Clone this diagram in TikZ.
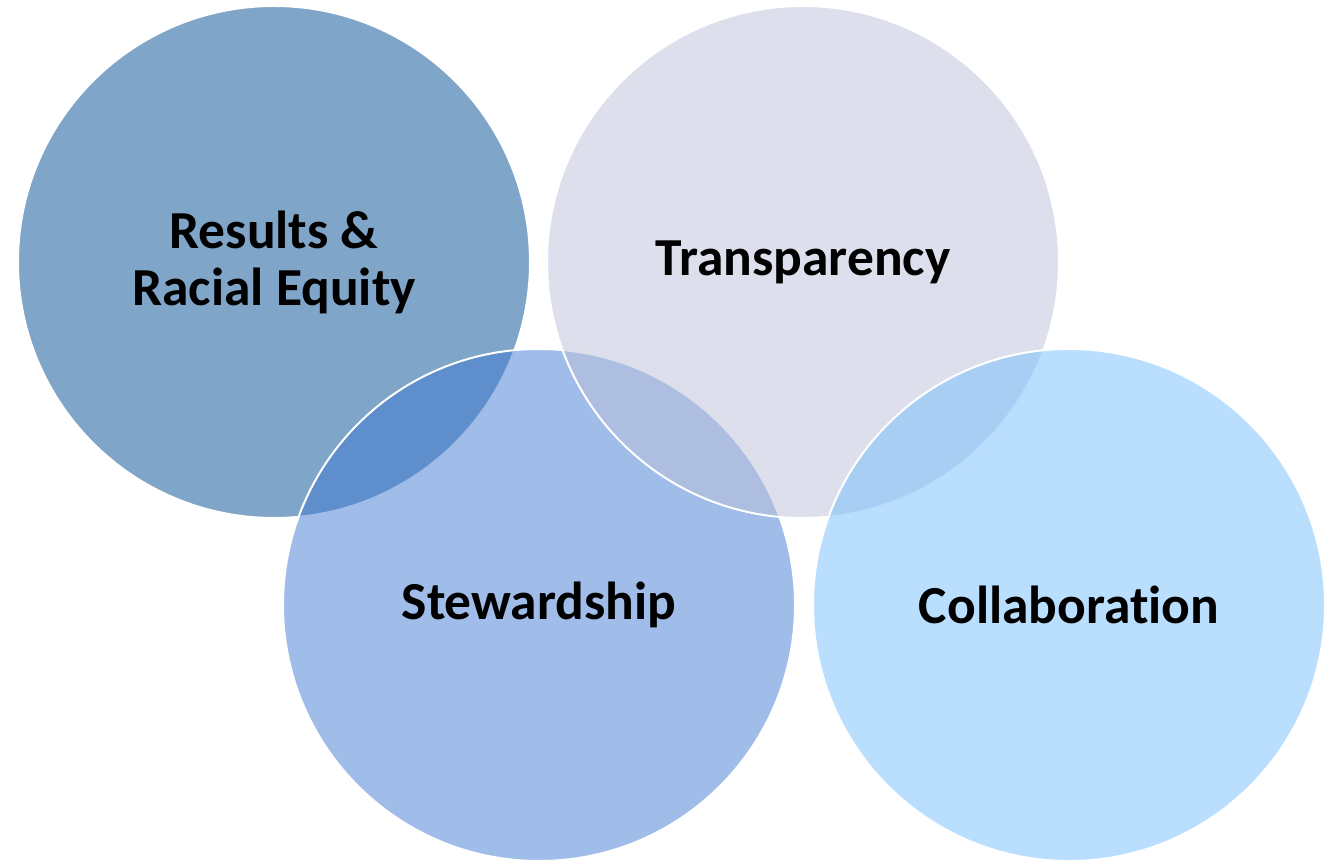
\documentclass[tikz,border=0pt]{standalone}
\usepackage{fontspec}
\setmainfont{Carlito}[Ligatures=NoCommon]
\usetikzlibrary{positioning}
\definecolor{resultsblue}{RGB}{0,75,145}
\definecolor{stewardblue}{RGB}{65,121,209}
\definecolor{transpgrey}{RGB}{187,193,217}
\definecolor{collabblue}{RGB}{117,189,251}

\begin{document}
\begin{tikzpicture}
    [x=1pt,y=1pt,
    value/.style={circle,draw=white,line width=2pt,fill opacity=0.5,text opacity=1,
    inner sep=0pt,minimum size=512pt,align=center,
    font=\bfseries\fontsize{53.5}{57}\selectfont}]
    \useasboundingbox (0,0) rectangle (1337,862);
    \node[value,fill=resultsblue] (results) at (274,600) {Results \&\\Racial Equity};
    \node[value,fill=stewardblue] (stewardship) at (539,257) {Stewardship};
    \node[value,fill=transpgrey] (transparency) at (803,600) {Transparency};
    \node[value,fill=collabblue] (collaboration) at (1069,257) {Collaboration};
\end{tikzpicture}
\end{document}
